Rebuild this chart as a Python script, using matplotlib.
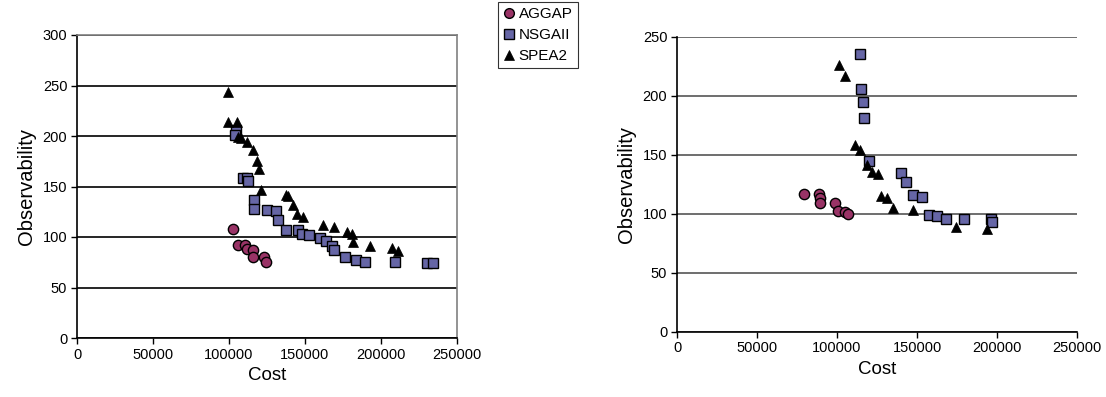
import matplotlib
matplotlib.use("Agg")
import matplotlib.pyplot as plt
from matplotlib.lines import Line2D

plt.rcParams['font.family'] = ['Liberation Sans', 'DejaVu Sans']

# ---- Left chart data ----
left_aggap_cost = [102800, 106000, 110500, 111600, 115600, 116000, 123000, 124300]
left_aggap_obs = [107.5, 92.5, 92, 88.5, 87, 80, 80.5, 75]

left_nsga_cost = [104600, 104000, 109000, 112000, 112700, 116400, 116400, 124800, 131000,
                  132000, 137500, 145600, 147800, 152800, 160000, 163800, 168000, 169000,
                  176000, 183600, 189500, 209000, 230000, 234000]
left_nsga_obs = [206, 201, 158, 158, 155, 137, 128, 126.5, 126, 117, 107, 107, 103, 102,
                 99, 96.5, 91, 87, 80, 77, 75, 75, 74, 74]

left_spea_cost = [99500, 99500, 105000, 106000, 108000, 112000, 115500, 118600, 120000,
                  120800, 137500, 138500, 142000, 144500, 149000, 161600, 169000, 177400,
                  180700, 181800, 193000, 207000, 211400]
left_spea_obs = [244, 214, 214, 199, 198, 194, 186, 175.5, 167, 146.5, 141.5, 141, 132,
                 123, 119.5, 112, 110, 105, 103, 95.5, 91, 89, 86]

# ---- Right chart data ----
right_aggap_cost = [79600, 89000, 89400, 89400, 98800, 100800, 105000, 107000]
right_aggap_obs = [116.4, 116.7, 113, 109.3, 108.8, 102.3, 101.7, 99.5]

right_nsga_cost = [114400, 114800, 116000, 116900, 120200, 139800, 143000, 147300, 153000,
                   157700, 162700, 168000, 179400, 196000, 197100]
right_nsga_obs = [235.3, 206, 195, 180.8, 144.5, 134.7, 126.6, 115.8, 113.9, 98.9, 98,
                  95.2, 95.2, 95.2, 93.2]

right_spea_cost = [101500, 105000, 111000, 114400, 119000, 121700, 125800, 127300, 131000,
                   135200, 147300, 174400, 194000]
right_spea_obs = [226, 216.7, 158, 154, 141.3, 135.6, 133.6, 115, 113, 104.6, 103, 88.5, 86.8]

series_names = ["AGGAP", "NSGAII", "SPEA2"]
x_ticks = [0, 50000, 100000, 150000, 200000, 250000]
left_y_ticks = [0, 50, 100, 150, 200, 250, 300]
right_y_ticks = [0, 50, 100, 150, 200, 250]

AGG_COLOR = '#993366'
NSGA_COLOR = '#6666A6'
SPEA_COLOR = '#000000'

W, H = 1106, 397
fig = plt.figure(figsize=(W / 100, H / 100), dpi=100)

ax1 = fig.add_axes([77 / W, (H - 338) / H, 380 / W, 303 / H])
ax2 = fig.add_axes([677 / W, (H - 331.7) / H, 400 / W, 295 / H])

ms = 7.4
ew = 1.0


def draw(ax, ac, ao, nc, no, sc, so, yticks, grid_color, border):
    ax.plot(ac, ao, linestyle='none', marker='o', markersize=ms, markerfacecolor=AGG_COLOR,
            markeredgecolor='black', markeredgewidth=ew, zorder=3)
    ax.plot(nc, no, linestyle='none', marker='s', markersize=ms, markerfacecolor=NSGA_COLOR,
            markeredgecolor='black', markeredgewidth=ew, zorder=3)
    ax.plot(sc, so, linestyle='none', marker='^', markersize=ms, markerfacecolor=SPEA_COLOR,
            markeredgecolor='black', markeredgewidth=0.5, zorder=3)
    ax.set_xlim(0, 250000)
    ax.set_ylim(yticks[0], yticks[-1])
    ax.set_xticks(x_ticks)
    ax.set_xticklabels([str(v) for v in x_ticks])
    ax.set_yticks(yticks)
    ax.set_yticklabels([str(v) for v in yticks])
    ax.tick_params(axis='both', direction='out', length=4, width=1, colors='black',
                   labelsize=10.5, pad=3)
    ax.yaxis.grid(True, color=grid_color, linewidth=1.2)
    ax.set_axisbelow(True)
    for s in ['left', 'bottom']:
        ax.spines[s].set_color('black')
        ax.spines[s].set_linewidth(1.2)
    if border:
        for s in ['top', 'right']:
            ax.spines[s].set_color('#808080')
            ax.spines[s].set_linewidth(1.2)
    else:
        ax.spines['top'].set_visible(False)
        ax.spines['right'].set_visible(False)
    ax.set_xlabel('Cost', fontsize=13.5, labelpad=4)
    ax.set_ylabel('Observability', fontsize=14.5, labelpad=5)


draw(ax1, left_aggap_cost, left_aggap_obs, left_nsga_cost, left_nsga_obs,
     left_spea_cost, left_spea_obs, left_y_ticks, '#000000', True)
draw(ax2, right_aggap_cost, right_aggap_obs, right_nsga_cost, right_nsga_obs,
     right_spea_cost, right_spea_obs, right_y_ticks, '#555555', False)

handles = [
    Line2D([], [], linestyle='none', marker='o', markersize=7, markerfacecolor=AGG_COLOR,
           markeredgecolor='black', markeredgewidth=ew),
    Line2D([], [], linestyle='none', marker='s', markersize=7, markerfacecolor=NSGA_COLOR,
           markeredgecolor='black', markeredgewidth=ew),
    Line2D([], [], linestyle='none', marker='^', markersize=7, markerfacecolor=SPEA_COLOR,
           markeredgecolor='black', markeredgewidth=0.5),
]
leg = fig.legend(handles, series_names, loc='upper left',
                 bbox_to_anchor=(498 / W, 1 - 2 / H), bbox_transform=fig.transFigure,
                 frameon=True, fancybox=False, fontsize=11, handlelength=0.8,
                 handletextpad=0.2, borderpad=0.35, labelspacing=0.45, borderaxespad=0)
leg.get_frame().set_edgecolor('black')
leg.get_frame().set_linewidth(0.8)

fig.savefig('out.png', dpi=100)
